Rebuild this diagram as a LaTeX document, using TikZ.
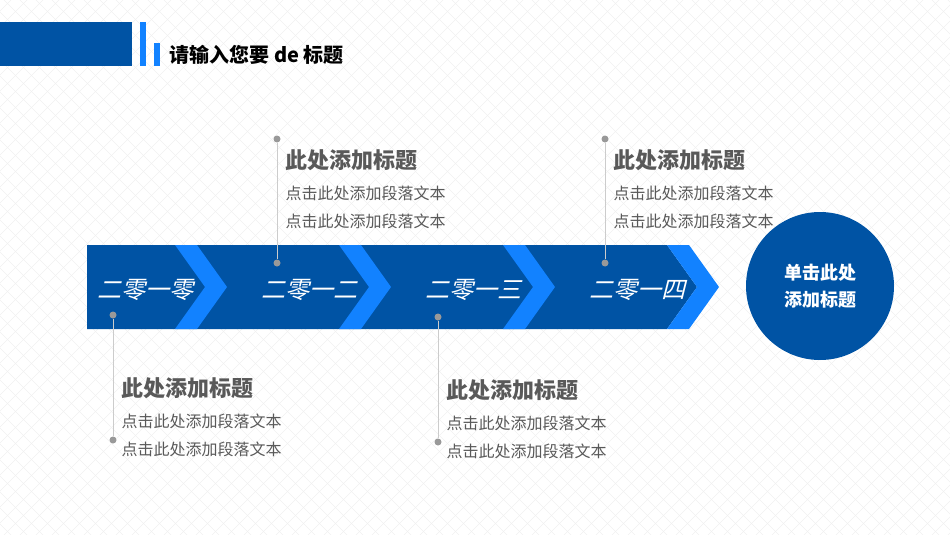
\documentclass[tikz,border=0pt]{standalone}
\usepackage{fontspec}
\setmainfont{Noto Sans CJK SC}
\definecolor{darkblue}{RGB}{0,83,164}
\definecolor{lightblue}{RGB}{18,130,255}
\definecolor{textgray}{RGB}{89,89,89}
\begin{document}
\begin{tikzpicture}[x=1pt,y=-1pt,
	year/.style={text=white,font=\fontsize{24}{26}\selectfont,xslant=0.25},
	chev/.style={fill=lightblue},
	ctitle/.style={anchor=west,text=textgray,font=\fontsize{22}{24}\selectfont\bfseries},
	cbody/.style={anchor=west,text=textgray,font=\fontsize{16}{18}\selectfont},
	pin/.style={circle,fill=gray!80,inner sep=0pt,minimum size=7pt},
	pinline/.style={draw=gray!40,line width=0.8pt}]
	\useasboundingbox (0,0) rectangle (950,535);
	% background grid
	\begin{scope}
		\clip (0,0) rectangle (950,535);
		\foreach \i in {-540,-524,...,950}
			{\draw[gray!12,line width=0.6pt] (\i,0) -- (\i+535,535);
			 \draw[gray!12,line width=0.6pt] (\i+535,0) -- (\i,535);}
	\end{scope}
	% header
	\fill[darkblue] (0,22) rectangle (132,66);
	\fill[lightblue] (140,22) rectangle (146,66);
	\fill[lightblue] (154,43) rectangle (160,66);
	\node[anchor=west,font=\fontsize{20}{22}\selectfont\bfseries] (head) at (166,55) {请输入您要 de 标题};
	% band
	\fill[darkblue] (87,245) -- (667,245) -- (697,287) -- (667,329) -- (87,329) -- cycle;
	\foreach \x in {175,339,503,667}
		\fill[chev] (\x,245) -- (\x+22,245) -- (\x+52,287) -- (\x+22,329) -- (\x,329) -- (\x+30,287) -- cycle;
	\node[year] (y1) at (148,290) {二零一零};
	\node[year] (y2) at (312,290) {二零一二};
	\node[year] (y3) at (476,290) {二零一三};
	\node[year] (y4) at (640,290) {二零一四};
	% circle
	\node[circle,fill=darkblue,minimum size=148pt,text=white,align=center,
		font=\fontsize{18}{27}\selectfont\bfseries] (end) at (820,286) {单击此处\\添加标题};
	% callouts
	\foreach \n/\x/\ya/\yb/\yt in {a/277/139/263/160,b/605/139/263/160,c/113/315/440/388,d/438/317/442/390}{
		\node[pin] (\n top) at (\x,\ya) {};
		\node[pin] (\n bot) at (\x,\yb) {};
		\draw[pinline] (\n top) -- (\n bot);
		\node[ctitle] (\n t) at (\x+5,\yt) {此处添加标题};
		\node[cbody] (\n b1) at (\x+5,\yt+33) {点击此处添加段落文本};
		\node[cbody] (\n b2) at (\x+5,\yt+61) {点击此处添加段落文本};
	}
\end{tikzpicture}
\end{document}
